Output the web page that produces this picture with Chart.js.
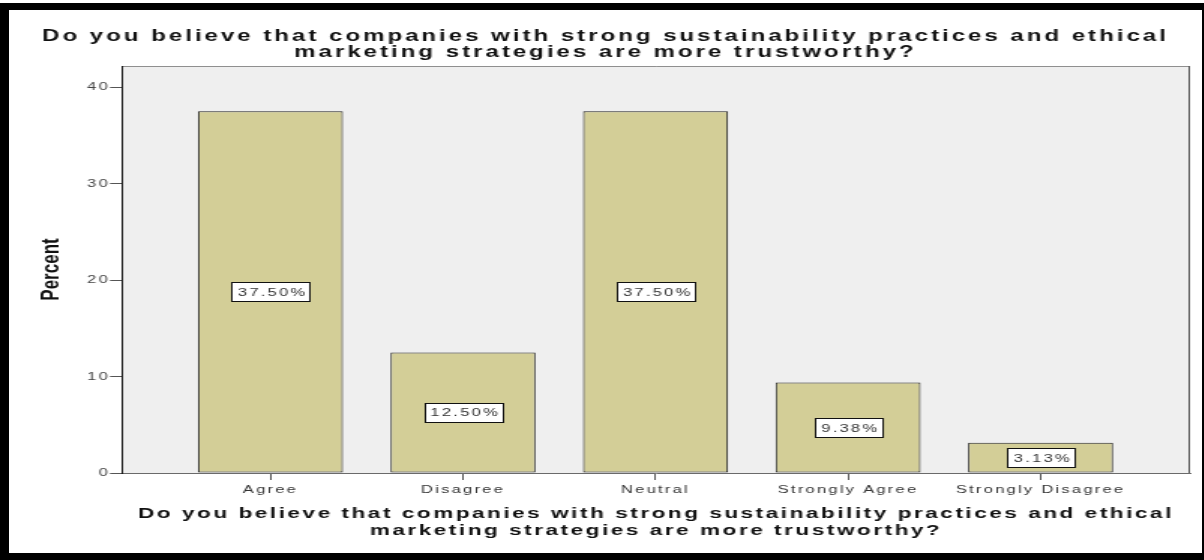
<!DOCTYPE html>
<html>
<head>
<meta charset="utf-8">
<title>Sustainability and trust survey</title>
<script src="https://cdn.jsdelivr.net/npm/chart.js"></script>
<style>
  html, body { margin: 0; padding: 0; background: #fff; }
  #frame {
    position: absolute;
    left: 0;
    top: 3px;
    width: 1193px;
    height: 543px;
    border-style: solid;
    border-color: #000;
    border-width: 7px 2px 7px 9px;
    background: #fff;
  }
  #surveyChart { display: block; }
</style>
</head>
<body>
<div id="frame">
  <!-- drawn narrow and widened by css, like the exported spss graphic -->
  <canvas id="surveyChart" width="795" height="543" style="width:1193px;height:543px"></canvas>
</div>
<script>
// ===== Survey bar chart: trust in sustainable / ethical companies =====

const questionLines = [
  'Do you believe that companies with strong sustainability practices and ethical',
  'marketing strategies are more trustworthy?'
];
const responses = ['Agree', 'Disagree', 'Neutral', 'Strongly Agree', 'Strongly Disagree'];
const percents = [37.50, 12.50, 37.50, 9.38, 3.13];
const yTicks = [0, 10, 20, 30, 40];
const yLabel = 'Percent';

const FONT = "'Liberation Sans', Arial, Helvetica, sans-serif";
Chart.defaults.font.family = FONT;

// Grey plot panel plus its top and right edges
const plotBackground = {
  id: 'plotBackground',
  beforeDraw(chart) {
    const { ctx, chartArea: a } = chart;
    // wide letter spacing for all axis text
    ctx.letterSpacing = '1.5px';
    ctx.save();
    ctx.fillStyle = '#efefef';
    ctx.fillRect(a.left, a.top, a.right - a.left, a.bottom - a.top);
    ctx.lineWidth = 1;
    ctx.strokeStyle = '#8f8f8f';
    ctx.beginPath();
    ctx.moveTo(a.left, a.top + 0.5);
    ctx.lineTo(a.right, a.top + 0.5);
    ctx.stroke();
    ctx.strokeStyle = '#555';
    ctx.beginPath();
    ctx.moveTo(a.right - 0.5, a.top);
    ctx.lineTo(a.right - 0.5, a.bottom);
    ctx.stroke();
    ctx.restore();
  }
};

// Boxed percentage label in the middle of each bar
const barLabels = {
  id: 'barLabels',
  afterDatasetsDraw(chart) {
    const ctx = chart.ctx;
    const bars = chart.getDatasetMeta(0).data;
    ctx.save();
    ctx.font = `11px ${FONT}`;
    ctx.letterSpacing = '1.5px';
    ctx.textAlign = 'center';
    ctx.textBaseline = 'middle';
    bars.forEach((bar, i) => {
      const text = percents[i].toFixed(2) + '%';
      const w = Math.round(ctx.measureText(text).width + 6);
      const h = 19;
      const cy = (bar.y + bar.base) / 2;
      const left = Math.round(bar.x - w / 2);
      const top = Math.round(cy - h / 2);
      ctx.fillStyle = '#fff';
      ctx.fillRect(left, top, w, h);
      ctx.strokeStyle = '#111';
      ctx.lineWidth = 1;
      ctx.strokeRect(left + 0.5, top + 0.5, w, h);
      ctx.fillStyle = '#333';
      ctx.fillText(text, bar.x + 1.5, cy + 1);
    });
    ctx.restore();
  }
};

// Question text above the chart and again as the x-axis title, plus the y title
const questionTitles = {
  id: 'questionTitles',
  afterDraw(chart) {
    const { ctx, chartArea: a, width } = chart;
    ctx.save();
    ctx.fillStyle = '#111';
    ctx.textAlign = 'center';
    ctx.textBaseline = 'middle';

    ctx.font = `bold 16px ${FONT}`;
    ctx.letterSpacing = '2px';
    questionLines.forEach((line, i) => ctx.fillText(line, width / 2, 27 + i * 16));

    ctx.font = `bold 15px ${FONT}`;
    ctx.letterSpacing = '1.7px';
    const cx = (a.left + a.right) / 2;
    questionLines.forEach((line, i) => ctx.fillText(line, cx, a.bottom + 41 + i * 17));

    ctx.font = `bold 17px ${FONT}`;
    ctx.letterSpacing = '0px';
    ctx.translate(28, (a.top + a.bottom) / 2);
    ctx.rotate(-Math.PI / 2);
    ctx.fillText(yLabel, 0, 0);
    ctx.restore();
  }
};

new Chart(document.getElementById('surveyChart'), {
  type: 'bar',
  data: {
    datasets: [{
      label: yLabel,
      data: percents.map((v, i) => ({ x: i, y: v })),
      backgroundColor: '#d3ce97',
      borderColor: '#222',
      borderWidth: 1,
      borderSkipped: false,
      barPercentage: 0.753,
      categoryPercentage: 1
    }]
  },
  options: {
    responsive: false,
    animation: false,
    layout: { padding: { top: 56, left: 14, right: 8, bottom: 0 } },
    plugins: {
      legend: { display: false },
      tooltip: { enabled: false }
    },
    scales: {
      x: {
        type: 'linear',
        offset: false,
        min: -0.771,
        max: 4.776,
        afterBuildTicks: scale => { scale.ticks = responses.map((_, i) => ({ value: i })); },
        afterFit: scale => { scale.height = 80; },
        grid: { offset: false, drawOnChartArea: false, drawTicks: true, tickLength: 7, tickColor: '#555' },
        border: { display: true, color: '#6a6a6a' },
        ticks: {
          autoSkip: false,
          maxRotation: 0,
          padding: 3,
          color: '#333',
          font: { size: 11 },
          callback: value => responses[value]
        }
      },
      y: {
        min: 0,
        max: 42.18,
        afterBuildTicks: scale => { scale.ticks = yTicks.map(v => ({ value: v })); },
        afterFit: scale => { scale.width = 61.3; },
        grid: { drawOnChartArea: false, drawTicks: true, tickLength: 8, tickColor: '#555' },
        border: { display: true, color: '#111' },
        ticks: { padding: 0, color: '#444', font: { size: 11 } }
      }
    }
  },
  plugins: [plotBackground, barLabels, questionTitles]
});
</script>
</body>
</html>
